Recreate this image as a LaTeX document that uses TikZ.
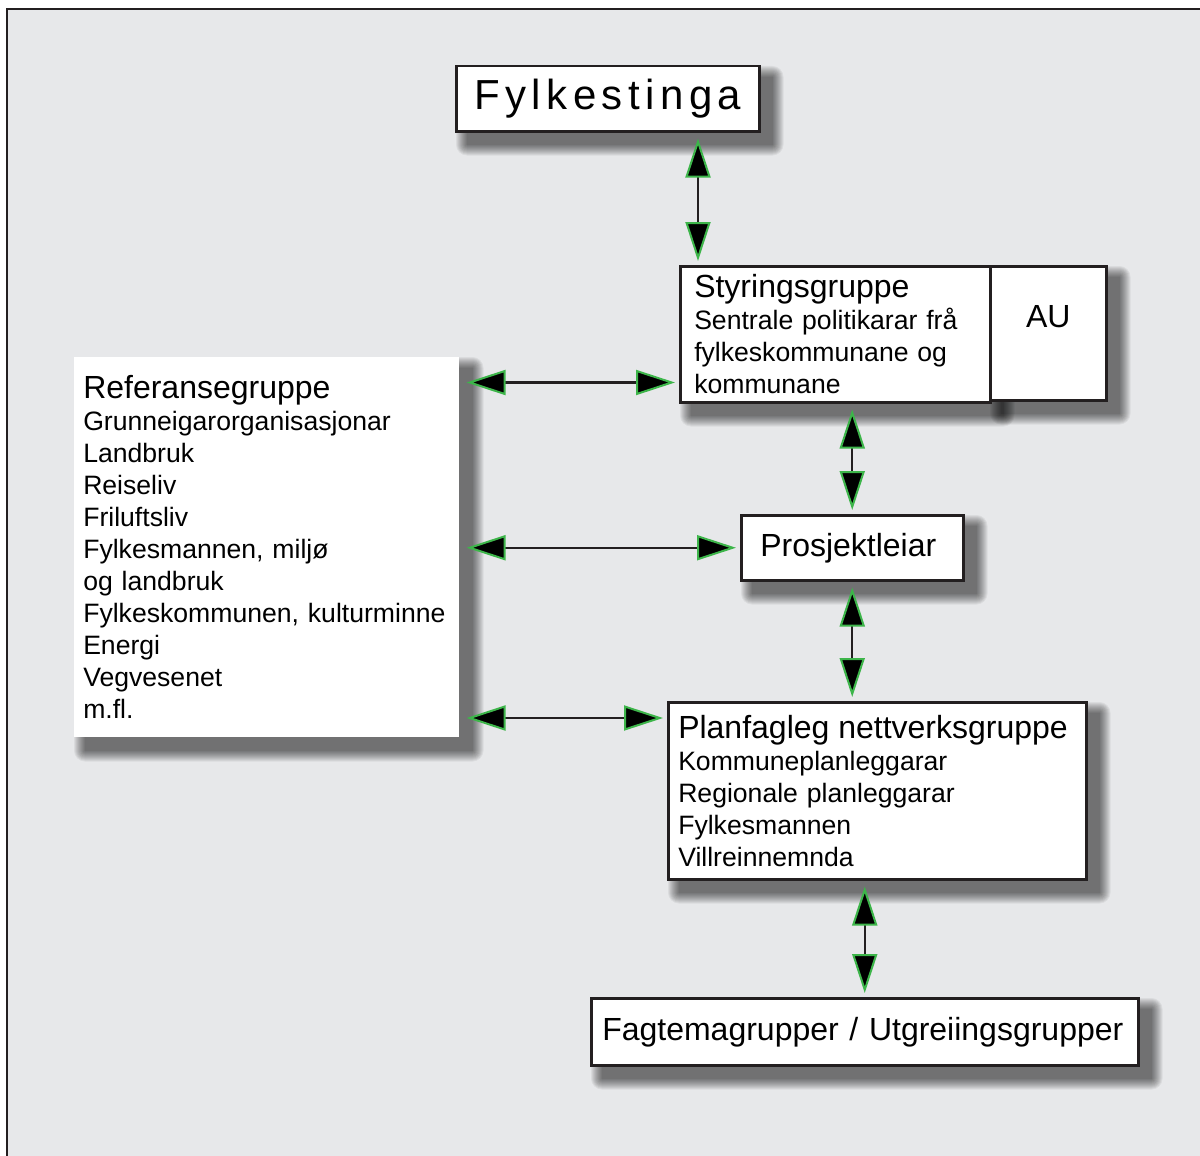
\documentclass[tikz,border=0pt]{standalone}
\usepackage{fontspec}
\setmainfont{Liberation Sans}
\usetikzlibrary{arrows.meta}

\definecolor{bggray}{HTML}{E7E8EA}
\definecolor{ink}{HTML}{231F20}
\definecolor{tipgreen}{HTML}{3DB54A}

\pgfdeclarelayer{back}
\pgfdeclarelayer{shade}
\pgfsetlayers{back,shade,main}

\newcommand\headfont{\fontsize{32}{32}\selectfont}
\newcommand\bodyfont{\fontsize{26.6}{32}\selectfont}

% soft shadow behind a named node
\newcommand\softshadow[1]{%
    \foreach \k in {0,...,11}
        \fill[black, opacity=0.055, rounded corners=\k pt]
            ([xshift=12pt-\k pt, yshift=-12pt+\k pt]#1.north west) rectangle
            ([xshift=12pt+\k pt, yshift=-12pt-\k pt]#1.south east);}

\tikzset{
    gtri/.tip={Triangle[length=39pt, width=25pt, color=tipgreen, fill=black, line width=2pt]},
    box/.style={draw=ink, line width=2.5pt, fill=white, anchor=north west},
    link/.style={{gtri}-{gtri}, draw=ink, line width=2.2pt, shorten <=6pt, shorten >=4pt},
}

\begin{document}
\begin{tikzpicture}[x=1pt, y=-1pt]
    \useasboundingbox (0,0) rectangle (1200,1156);

% frame
    \begin{pgfonlayer}{back}
    \fill[bggray] (7,9) rectangle (1200,1156);
    \draw[ink, line width=2pt] (7,1156) -- (7,9) -- (1200,9);
    \end{pgfonlayer}

% boxes
    \node[box, minimum width=303pt, minimum height=65pt, inner sep=0pt,
        font=\fontsize{42}{42}\selectfont\addfontfeatures{LetterSpace=13}] (F) at (455,65) {Fylkestinga};

    \node[box, text width=282pt, inner xsep=14pt, inner ysep=6pt, minimum height=136pt,
        align=left, font=\bodyfont] (S) at (679,265)
        {{\headfont Styringsgruppe}\\Sentrale politikarar frå\\fylkeskommunane og\\kommunane};
    \node[box, minimum width=116pt, inner ysep=38pt, text height=23pt, text depth=35pt,
        font=\headfont] (AU) at (989,265) {AU};

    \node[box, draw=none, text width=367pt, inner xsep=9pt, minimum height=380pt,
        align=left, font=\bodyfont] (R) at (73,356)
        {{\headfont Referansegruppe}\\Grunneigarorganisasjonar\\Landbruk\\Reiseliv\\Friluftsliv\\
         Fylkesmannen, miljø\\og landbruk\\Fylkeskommunen, kulturminne\\Energi\\Vegvesenet\\m.fl.};

    \node[box, text width=184pt, inner xsep=19pt, minimum height=65pt, align=left,
        font=\headfont] (P) at (740,514) {Prosjektleiar};

    \node[box, text width=398pt, inner xsep=10pt, minimum height=177pt,
        align=left, font=\bodyfont] (N) at (667,701)
        {{\headfont Planfagleg nettverksgruppe}\\Kommuneplanleggarar\\Regionale planleggarar\\Fylkesmannen\\Villreinnemnda};

    \node[box, text width=525pt, inner xsep=11pt, minimum height=67pt, align=left,
        font=\headfont] (G) at (590,997) {Fagtemagrupper / Utgreiingsgrupper};

% shadows
    \begin{pgfonlayer}{shade}
    \softshadow{F}
    \softshadow{S}
    \softshadow{AU}
    \softshadow{R}
    \softshadow{P}
    \softshadow{N}
    \softshadow{G}
    \end{pgfonlayer}

% arrows
    \coordinate (s1) at ([xshift=19pt]S.north west);
    \coordinate (s2) at ([yshift=21pt]S.south west);
    \coordinate (n1) at ([yshift=-17pt]N.north west);

    \draw[link] (s1 |- F.south) -- (s1);
    \draw[link] (R.east |- s2) -- (s2);
    \draw[link] (R.east |- P.west) -- (P.west);
    \draw[link] (R.east |- n1) -- (n1);

    \draw[link] (S.south -| P.north) -- (P.north);
    \draw[link] (P.south) -- (N.north -| P.south);
    \draw[link] (N.south -| G.north) -- (G.north);

\end{tikzpicture}
\end{document}
